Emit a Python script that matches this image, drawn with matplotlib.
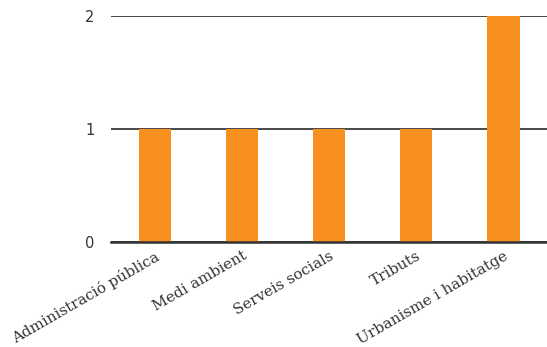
import matplotlib.pyplot as plt

categories = ["Administració pública", "Medi ambient", "Serveis socials",
              "Tributs", "Urbanisme i habitatge"]
values = [1, 1, 1, 1, 2]
y_ticks = [0, 1, 2]

fig = plt.figure(figsize=(5.47, 3.47), dpi=100)
ax = fig.add_axes([0.203, 0.3026, 0.797, 0.6514])

ax.bar(range(len(categories)), values, width=0.37, color="#F7901E", zorder=3)

ax.set_xlim(-0.5, len(categories) - 0.5)
ax.set_ylim(0, 2)
ax.set_yticks(y_ticks)
ax.yaxis.grid(True, color="#3a3a3a", linewidth=1.3)
ax.set_axisbelow(True)
for s in ax.spines.values():
    s.set_visible(False)
ax.axhline(0, color="#333333", linewidth=1.8, zorder=4, clip_on=False)

ax.tick_params(axis="y", length=0, pad=12, labelsize=10.5, labelcolor="#333333")
ax.tick_params(axis="x", length=0, pad=5)
ax.set_xticks(range(len(categories)))
ax.set_xticklabels(categories, rotation=30, ha="right", rotation_mode="anchor",
                   family="DejaVu Serif", fontsize=10.8, color="#333333")

fig.savefig("out.png", dpi=100)
